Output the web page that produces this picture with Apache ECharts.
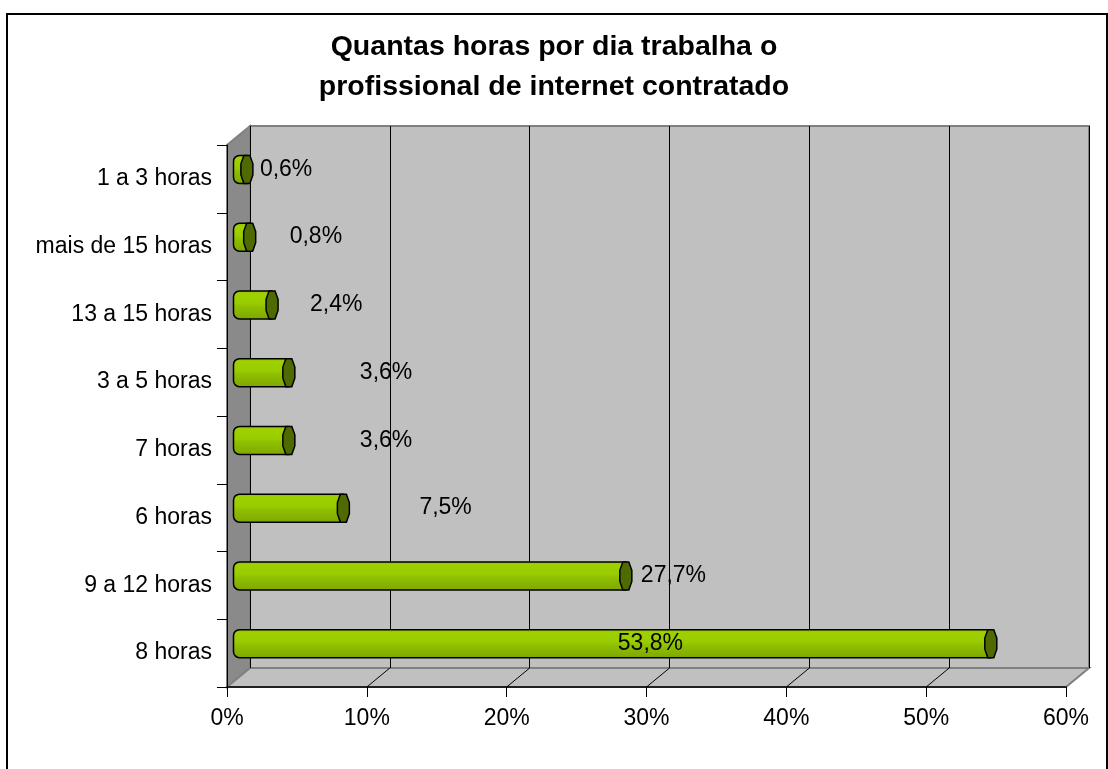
<!DOCTYPE html>
<html>
<head>
<meta charset="utf-8">
<script src="https://cdn.jsdelivr.net/npm/echarts@6/dist/echarts.min.js"></script>
<style>
  html, body { margin: 0; padding: 0; background: #fff; }
  #chart { width: 1108px; height: 769px; }
</style>
</head>
<body>
<div id="chart"></div>
<script>
// dados (de cima para baixo)
const categories = ['1 a 3 horas', 'mais de 15 horas', '13 a 15 horas', '3 a 5 horas', '7 horas', '6 horas', '9 a 12 horas', '8 horas'];
const values = [0.6, 0.8, 2.4, 3.6, 3.6, 7.5, 27.7, 53.8];
const xTicks = [0, 10, 20, 30, 40, 50, 60];

// layout do "3D" do Excel
const FRONT = { left: 227, top: 145, width: 839, height: 542 };
const DEPTH = { x: 23, y: -19 };
// ajuste horizontal dos rótulos (px a partir do fim da barra)
const labelDx = [13, 40, 38, 71, 71, 76, 15, -373];

const FONT = '"Liberation Sans", Arial, sans-serif';
const FS = 23;

const chart = echarts.init(document.getElementById('chart'), null, { renderer: 'canvas' });

const gridAt = (k) => ({
  left: FRONT.left + DEPTH.x * k,
  top: FRONT.top + DEPTH.y * k,
  width: FRONT.width,
  height: FRONT.height
});

const fmt = (v) => v.toFixed(1).replace('.', ',') + '%';

const barFill = new echarts.graphic.LinearGradient(0, 0, 0, 1, [
  { offset: 0, color: '#8fbf00' },
  { offset: 0.12, color: '#9fd000' },
  { offset: 0.45, color: '#99cc00' },
  { offset: 0.55, color: '#8fc000' },
  { offset: 1, color: '#7ea600' }
]);

function renderBar(params, api) {
  const idx = api.value(0);
  const val = api.value(1);
  const s = api.coord([0, idx]);
  const e = api.coord([val, idx]);
  const h = 28;
  const y0 = s[1] - h / 2;
  const x0 = s[0] - 5;
  const x1 = Math.max(e[0], x0 + 8);
  const cap = [
    [x1 - 3, y0], [x1 + 3, y0], [x1 + 6, y0 + h * 0.3], [x1 + 6, y0 + h * 0.7],
    [x1 + 3, y0 + h], [x1 - 3, y0 + h], [x1 - 6, y0 + h * 0.7], [x1 - 6, y0 + h * 0.3]
  ];
  return {
    type: 'group',
    children: [
      {
        type: 'rect',
        shape: { x: x0, y: y0, width: x1 - x0, height: h, r: [6, 0, 0, 6] },
        style: { fill: barFill, stroke: '#000', lineWidth: 1.5 }
      },
      {
        type: 'polygon',
        shape: { points: cap },
        style: { fill: '#4f6a00', stroke: '#000', lineWidth: 1.5 }
      },
      {
        type: 'text',
        style: {
          text: fmt(val),
          x: e[0] + labelDx[idx],
          y: s[1],
          align: 'left',
          verticalAlign: 'middle',
          font: FS + 'px ' + FONT,
          fill: '#000'
        }
      }
    ]
  };
}

const hiddenCat = (gi) => ({
  type: 'category', gridIndex: gi, data: categories, inverse: true, show: false
});
const hiddenVal = (gi, split) => ({
  type: 'value', gridIndex: gi, min: xTicks[0], max: xTicks[xTicks.length - 1],
  interval: xTicks[1] - xTicks[0],
  axisLine: { show: false }, axisTick: { show: false }, axisLabel: { show: false },
  splitLine: { show: split, lineStyle: { color: '#000', width: 1 } }
});

const option = {
  backgroundColor: '#fff',
  animation: false,
  title: {
    text: 'Quantas horas por dia trabalha o\nprofissional de internet contratado',
    left: 'center',
    top: 22,
    textStyle: { fontFamily: FONT, fontSize: 28.5, fontWeight: 'bold', color: '#000', lineHeight: 40 }
  },
  grid: [gridAt(0), gridAt(1), gridAt(0.5)],
  xAxis: [
    {
      type: 'value', gridIndex: 0,
      min: xTicks[0], max: xTicks[xTicks.length - 1], interval: xTicks[1] - xTicks[0],
      axisLine: { show: true, lineStyle: { color: '#000', width: 1.5 } },
      axisTick: { show: true, length: 10, lineStyle: { color: '#000' } },
      axisLabel: { formatter: '{value}%', fontFamily: FONT, fontSize: FS, color: '#000', margin: 20 },
      splitLine: { show: false }
    },
    hiddenVal(1, true),
    hiddenVal(2, false)
  ],
  yAxis: [
    {
      type: 'category', gridIndex: 0, data: categories, inverse: true,
      axisLine: { show: true, lineStyle: { color: '#000', width: 1 } },
      axisTick: { show: true, length: 10, lineStyle: { color: '#000' } },
      axisLabel: { fontFamily: FONT, fontSize: FS, color: '#000', margin: 15 },
      splitLine: { show: false }
    },
    hiddenCat(1),
    hiddenCat(2)
  ],
  series: [
    {
      type: 'custom',
      xAxisIndex: 2,
      yAxisIndex: 2,
      z: 5,
      renderItem: renderBar,
      encode: { x: 1, y: 0 },
      data: values.map((v, i) => [i, v])
    }
  ]
};

chart.setOption(option);

// paredes e piso desenhados a partir das posições das grades
function buildWalls() {
  const f = gridAt(0), b = gridAt(1);
  const fb = f.top + f.height, bb = b.top + b.height;
  const fr = f.left + f.width, br = b.left + b.width;
  const edge = { stroke: '#808080', lineWidth: 2 };
  const els = [
    { type: 'rect', z: -10, shape: { x: 7, y: 14, width: 1100, height: 800 },
      style: { fill: '#fff', stroke: '#000', lineWidth: 2 } },
    { type: 'rect', z: -9, shape: { x: b.left, y: b.top, width: b.width, height: b.height },
      style: Object.assign({ fill: '#c0c0c0' }, edge) },
    { type: 'polygon', z: -9, shape: { points: [[f.left, f.top], [b.left, b.top], [b.left, bb], [f.left, fb]] },
      style: Object.assign({ fill: '#8a8a8a' }, edge) },
    { type: 'polygon', z: -9, shape: { points: [[f.left, fb], [b.left, bb], [br, bb], [fr, fb]] },
      style: Object.assign({ fill: '#c0c0c0' }, edge) }
  ];
  xTicks.forEach((t) => {
    if (t === xTicks[0] || t === xTicks[xTicks.length - 1]) return;
    const bx = chart.convertToPixel({ xAxisIndex: 1 }, t);
    const fx = chart.convertToPixel({ xAxisIndex: 0 }, t);
    els.push({ type: 'line', z: -8, shape: { x1: bx, y1: bb, x2: fx, y2: fb },
      style: { stroke: '#000', lineWidth: 1 } });
  });
  return els;
}

chart.setOption({ graphic: { elements: buildWalls() } });
</script>
</body>
</html>
